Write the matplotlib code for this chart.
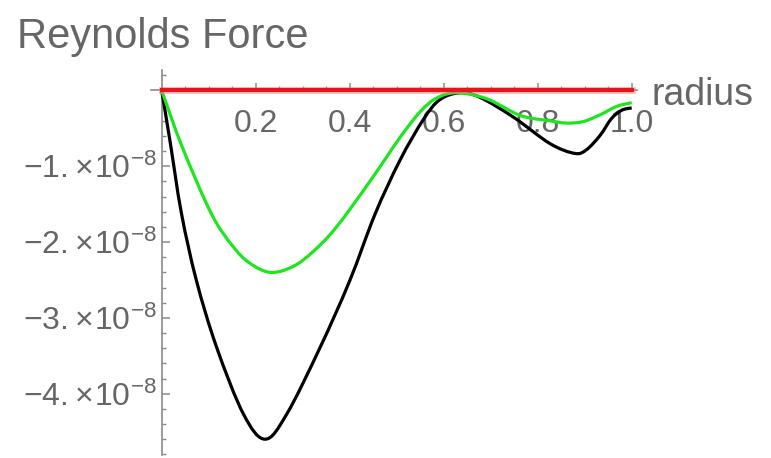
import numpy as np
import matplotlib
matplotlib.use("Agg")
from matplotlib import pyplot as plt
from matplotlib.ticker import MultipleLocator
from matplotlib.path import Path
from matplotlib.patches import PathPatch

plt.rcParams['font.family'] = ['Liberation Sans', 'DejaVu Sans']
plt.rcParams['mathtext.fontset'] = 'custom'
plt.rcParams['mathtext.rm'] = 'Liberation Sans'
plt.rcParams['mathtext.it'] = 'Liberation Sans:italic'
plt.rcParams['mathtext.bf'] = 'Liberation Sans:bold'

# values (force in units of 1e-8)
scale = 1e-8
black_r = [0, 0.018, 0.042, 0.074, 0.117, 0.174, 0.220, 0.266, 0.337, 0.400, 0.454,
           0.507, 0.557, 0.592, 0.635, 0.677, 0.748, 0.826, 0.879, 0.904, 0.933,
           0.957, 0.979, 1.0]
black_f = [0, -0.68, -1.62, -2.51, -3.39, -4.27, -4.60, -4.27, -3.39, -2.51, -1.63,
           -0.92, -0.38, -0.12, -0.03, -0.09, -0.35, -0.70, -0.83, -0.78, -0.59,
           -0.37, -0.26, -0.23]
green_r = [0, 0.044, 0.106, 0.152, 0.188, 0.232, 0.280, 0.323, 0.372, 0.444, 0.507,
           0.550, 0.585, 0.628, 0.692, 0.763, 0.826, 0.862, 0.897, 0.933, 0.968, 1.0]
green_f = [0, -0.75, -1.63, -2.06, -2.28, -2.40, -2.32, -2.12, -1.80, -1.19, -0.62,
           -0.28, -0.10, -0.03, -0.11, -0.33, -0.40, -0.43, -0.41, -0.32, -0.21, -0.16]
red_r = [0, 1.0]
red_f = [0, 0]

xticks = [0.2, 0.4, 0.6, 0.8, 1.0]
xticklabels = ['0.2', '0.4', '0.6', '0.8', '1.0']
yticks = [-1, -2, -3, -4]
yticklabels = [r'$\mathregular{-1.\!\times\!10^{-8}}$', r'$\mathregular{-2.\!\times\!10^{-8}}$',
               r'$\mathregular{-3.\!\times\!10^{-8}}$', r'$\mathregular{-4.\!\times\!10^{-8}}$']


def smooth_path(xs, ys):
    # catmull-rom through the read points, drawn as cubic beziers
    p = np.column_stack([xs, ys])
    verts = [p[0]]
    codes = [Path.MOVETO]
    for i in range(len(p) - 1):
        a = p[i - 1] if i > 0 else p[i]
        b, c = p[i], p[i + 1]
        d = p[i + 2] if i + 2 < len(p) else p[i + 1]
        verts += [b + (c - a) / 6, c - (d - b) / 6, c]
        codes += [Path.CURVE4] * 3
    return Path(verts, codes)


W, H = 771, 458
fig = plt.figure(figsize=(W / 100, H / 100), dpi=100)

# axes box in pixels: x=0 at 161.7, 470 px per unit; y=0 at 90.5, 75.8 px per 1e-8
x0, xs = 161.7, 470.0
y0, ys = 90.5, 75.8
xlim = (-0.023, 1.012)
ylim = (-4.81, 0.27)
left = x0 + xlim[0] * xs
right = x0 + xlim[1] * xs
top = y0 - ylim[1] * ys
bottom = y0 - ylim[0] * ys
ax = fig.add_axes([left / W, 1 - bottom / H, (right - left) / W, (bottom - top) / H])

gray = '#8a8a8a'
txt = '#666666'

ax.add_patch(PathPatch(smooth_path(black_r, np.array(black_f) * scale), fill=False,
                       edgecolor='black', lw=2.3, zorder=3))
ax.add_patch(PathPatch(smooth_path(green_r, np.array(green_f) * scale), fill=False,
                       edgecolor='#1ee61e', lw=2.3, zorder=3))
ax.plot(red_r, np.array(red_f) * scale, color='#ff8080', lw=5, alpha=0.5, zorder=4)
ax.plot(red_r, np.array(red_f) * scale, color='#e8141c', lw=3, zorder=4)

ax.set_xlim(*xlim)
ax.set_ylim(ylim[0] * scale, ylim[1] * scale)

for s in ['top', 'right']:
    ax.spines[s].set_visible(False)
ax.spines['left'].set_position(('data', 0))
ax.spines['bottom'].set_position(('data', 0))
for s in ['left', 'bottom']:
    ax.spines[s].set_color(gray)
    ax.spines[s].set_linewidth(1.2)

ax.set_xticks(xticks)
ax.set_xticklabels(xticklabels)
ax.xaxis.set_minor_locator(MultipleLocator(0.05))
ax.set_yticks(np.array(yticks) * scale)
ax.set_yticklabels(yticklabels)
ax.yaxis.set_minor_locator(MultipleLocator(0.2 * scale))

ax.tick_params(axis='x', which='major', direction='in', length=5, width=1.1, color=gray,
               labelsize=23, labelcolor=txt, pad=13)
ax.tick_params(axis='x', which='minor', direction='in', length=3, width=1, color=gray)
ax.tick_params(axis='y', which='major', direction='in', length=6, width=1.1, color=gray,
               labelsize=23, labelcolor=txt, pad=4)
ax.tick_params(axis='y', which='minor', direction='in', length=3, width=1, color=gray)
ax.patch.set_visible(False)

fig.text(17 / W, 1 - 48 / H, 'Reynolds Force', fontsize=30, color=txt,
         va='baseline', ha='left')
fig.text(652 / W, 1 - 105 / H, 'radius', fontsize=27, color=txt, va='baseline', ha='left')

fig.savefig('out.png', dpi=100)
